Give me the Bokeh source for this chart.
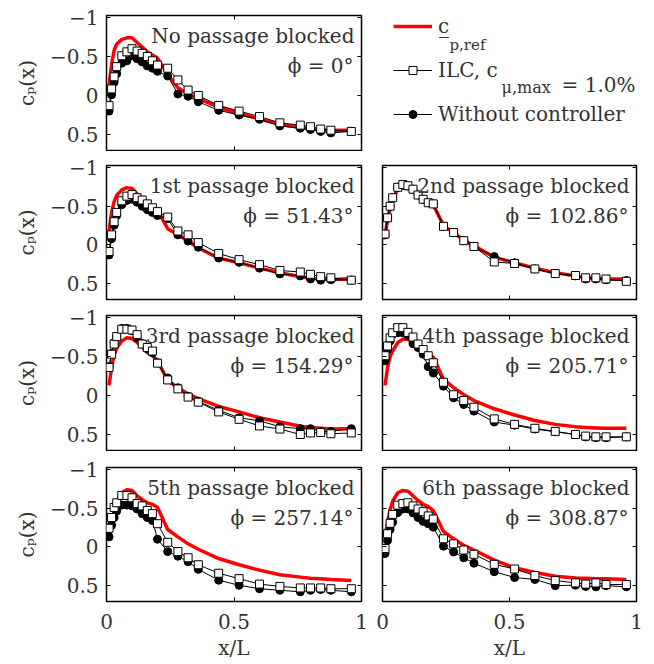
from bokeh.plotting import figure
from bokeh.models import (Range1d, FixedTicker, LinearAxis, Label, Legend, LegendItem,
                          CustomJSTickFormatter)
from bokeh.layouts import column, row
from bokeh.embed import file_html
from bokeh.resources import INLINE

# ---------------- data ----------------
x_taps = [0.01, 0.02, 0.03, 0.04, 0.06, 0.08, 0.10, 0.12, 0.14, 0.16, 0.18, 0.20,
          0.24, 0.28, 0.32, 0.36, 0.44, 0.52, 0.60, 0.68, 0.76, 0.80, 0.84, 0.88, 0.96]

# No passage blocked
ref_0 = [-0.13, -0.40, -0.58, -0.66, -0.72, -0.74, -0.74, -0.68, -0.62, -0.56, -0.52, -0.48,
         -0.27, -0.10, -0.02, 0.04, 0.15, 0.23, 0.30, 0.37, 0.41, 0.43, 0.44, 0.445, 0.445]
ilc_0 = [0.13, -0.085, -0.24, -0.37, -0.51, -0.56, -0.60, -0.57, -0.54, -0.50, -0.445, -0.39,
         -0.35, -0.20, -0.07, 0.0, 0.127, 0.20, 0.27, 0.35, 0.38, 0.40, 0.43, 0.445, 0.46]
wo_0 = [0.20, -0.01, -0.17, -0.28, -0.415, -0.445, -0.51, -0.47, -0.43, -0.38, -0.35, -0.31,
        -0.25, -0.02, 0.01, 0.08, 0.19, 0.25, 0.305, 0.39, 0.42, 0.435, 0.46, 0.48, 0.46]
# 1st passage blocked
ref_1 = [-0.17, -0.42, -0.56, -0.64, -0.71, -0.74, -0.73, -0.66, -0.60, -0.55, -0.49, -0.45,
         -0.21, -0.13, -0.05, 0.04, 0.17, 0.23, 0.30, 0.36, 0.41, 0.43, 0.44, 0.45, 0.435]
ilc_1 = [0.085, -0.13, -0.30, -0.42, -0.57, -0.63, -0.65, -0.61, -0.58, -0.53, -0.48, -0.43,
         -0.36, -0.18, -0.13, -0.03, 0.11, 0.19, 0.255, 0.33, 0.35, 0.38, 0.41, 0.425, 0.455]
wo_1 = [0.13, -0.08, -0.255, -0.38, -0.52, -0.575, -0.59, -0.55, -0.50, -0.455, -0.42, -0.38,
        -0.34, -0.13, -0.05, 0.03, 0.17, 0.225, 0.30, 0.375, 0.40, 0.44, 0.455, 0.45, 0.455]
# 2nd passage blocked
ref_2 = [-0.12, -0.33, -0.48, -0.58, -0.72, -0.77, -0.76, -0.72, -0.65, -0.59, -0.55, -0.52,
         -0.25, -0.16, -0.06, 0.01, 0.16, 0.23, 0.30, 0.36, 0.40, 0.42, 0.43, 0.44, 0.44]
ilc_2 = [-0.14, -0.35, -0.50, -0.61, -0.745, -0.78, -0.765, -0.72, -0.645, -0.59, -0.545, -0.53,
         -0.24, -0.16, -0.055, 0.02, 0.22, 0.24, 0.31, 0.37, 0.395, 0.425, 0.425, 0.44, 0.47]
wo_2 = [-0.13, -0.35, -0.50, -0.61, -0.745, -0.77, -0.76, -0.72, -0.645, -0.59, -0.545, -0.53,
        -0.24, -0.16, -0.055, 0.02, 0.15, 0.23, 0.31, 0.37, 0.40, 0.44, 0.44, 0.45, 0.46]
# 3rd passage blocked
ref_3 = [-0.13, -0.36, -0.52, -0.61, -0.70, -0.74, -0.73, -0.68, -0.62, -0.55, -0.51, -0.445,
         -0.19, -0.10, -0.02, 0.04, 0.14, 0.21, 0.285, 0.34, 0.395, 0.41, 0.42, 0.43, 0.425]
ilc_3 = [-0.36, -0.53, -0.66, -0.755, -0.85, -0.85, -0.84, -0.78, -0.66, -0.615, -0.57, -0.415,
         -0.20, -0.085, 0.02, 0.085, 0.21, 0.305, 0.39, 0.43, 0.50, 0.48, 0.475, 0.49, 0.48]
wo_3 = [-0.37, -0.54, -0.68, -0.755, -0.86, -0.86, -0.83, -0.74, -0.665, -0.60, -0.55, -0.42,
        -0.225, -0.10, 0.01, 0.075, 0.19, 0.285, 0.325, 0.40, 0.425, 0.425, 0.46, 0.46, 0.425]
# 4th passage blocked
ref_4 = [-0.13, -0.36, -0.50, -0.57, -0.68, -0.72, -0.72, -0.68, -0.62, -0.57, -0.53, -0.49,
         -0.21, -0.10, -0.01, 0.065, 0.17, 0.25, 0.32, 0.37, 0.40, 0.41, 0.415, 0.42, 0.42]
ilc_4 = [-0.51, -0.635, -0.74, -0.805, -0.87, -0.87, -0.81, -0.75, -0.66, -0.59, -0.51, -0.42,
         -0.17, -0.01, 0.065, 0.15, 0.30, 0.37, 0.42, 0.46, 0.50, 0.52, 0.53, 0.53, 0.53]
wo_4 = [-0.445, -0.59, -0.70, -0.785, -0.805, -0.805, -0.77, -0.665, -0.615, -0.53, -0.37, -0.29,
        -0.12, 0.03, 0.115, 0.20, 0.34, 0.38, 0.43, 0.465, 0.50, 0.53, 0.54, 0.54, 0.53]
# 5th passage blocked
ref_5 = [-0.17, -0.33, -0.44, -0.59, -0.70, -0.74, -0.73, -0.66, -0.61, -0.57, -0.55, -0.51,
         -0.225, -0.13, -0.04, 0.03, 0.15, 0.23, 0.30, 0.36, 0.39, 0.405, 0.41, 0.42, 0.435]
ilc_5 = [-0.24, -0.38, -0.51, -0.57, -0.665, -0.665, -0.635, -0.56, -0.53, -0.47, -0.43, -0.30,
         -0.06, 0.06, 0.14, 0.23, 0.34, 0.41, 0.48, 0.51, 0.53, 0.53, 0.53, 0.54, 0.54]
wo_5 = [-0.13, -0.28, -0.38, -0.465, -0.54, -0.54, -0.53, -0.49, -0.43, -0.38, -0.34, -0.10,
        0.06, 0.12, 0.19, 0.29, 0.43, 0.495, 0.54, 0.56, 0.58, 0.56, 0.55, 0.56, 0.58]
# 6th passage blocked
ref_6 = [-0.13, -0.32, -0.48, -0.59, -0.70, -0.73, -0.72, -0.66, -0.60, -0.55, -0.52, -0.47,
         -0.20, -0.105, -0.02, 0.04, 0.17, 0.27, 0.33, 0.38, 0.40, 0.405, 0.41, 0.41, 0.42]
ilc_6 = [0.02, -0.17, -0.305, -0.42, -0.54, -0.56, -0.57, -0.53, -0.49, -0.455, -0.40, -0.36,
         -0.105, -0.04, 0.04, 0.095, 0.225, 0.285, 0.37, 0.435, 0.465, 0.48, 0.465, 0.485, 0.485]
wo_6 = [0.085, -0.085, -0.225, -0.32, -0.445, -0.49, -0.49, -0.44, -0.38, -0.33, -0.30, -0.255,
        -0.01, 0.065, 0.14, 0.21, 0.32, 0.395, 0.42, 0.50, 0.495, 0.51, 0.515, 0.50, 0.515]

panel_titles = ["No passage blocked", "1st passage blocked", "2nd passage blocked",
                "3rd passage blocked", "4th passage blocked", "5th passage blocked",
                "6th passage blocked"]
panel_phis = ["ϕ = 0°", "ϕ = 51.43°", "ϕ = 102.86°", "ϕ = 154.29°", "ϕ = 205.71°",
              "ϕ = 257.14°", "ϕ = 308.87°"]

x_ticks = [0, 0.5, 1]
y_ticks = [-1, -0.5, 0, 0.5]

ref_series = [ref_0, ref_1, ref_2, ref_3, ref_4, ref_5, ref_6]
ilc_series = [ilc_0, ilc_1, ilc_2, ilc_3, ilc_4, ilc_5, ilc_6]
wo_series = [wo_0, wo_1, wo_2, wo_3, wo_4, wo_5, wo_6]

# ---------------- styling ----------------
FONT = "DejaVu Serif"
TXT = "#333333"
FS = "20px"
RED = "#ff0000"

ROW_TOP = [15, 14, 14, 16]
ROW_FRAME_H = [135, 134, 135, 134]
ROW_BOTTOM = [1, 2, 1, 63]
LEFT_BORDER = 106

y_fmt_code = "return tick < 0 ? '\u2212' + String(-tick) : String(tick);"


def style_axis(ax, ticks, show_labels, fmt_code):
    ax.ticker = FixedTicker(ticks=ticks, minor_ticks=[])
    ax.major_tick_in = 4
    ax.major_tick_out = 0
    ax.major_tick_line_color = "black"
    ax.major_tick_line_width = 1
    ax.minor_tick_line_color = None
    ax.axis_line_color = None
    ax.major_label_text_font = FONT
    ax.major_label_text_color = TXT
    ax.major_label_text_font_size = FS
    if show_labels:
        ax.formatter = CustomJSTickFormatter(code=fmt_code)
    else:
        ax.formatter = CustomJSTickFormatter(code="return '';")
        ax.major_label_standoff = 0


def make_panel(idx, col, r):
    left = col == 0
    bottom = r == 3
    fw = 255 if left else 254
    fh = ROW_FRAME_H[r]
    p = figure(frame_width=fw, frame_height=fh,
               min_border_left=LEFT_BORDER if left else 11, min_border_right=10,
               min_border_top=ROW_TOP[r], min_border_bottom=ROW_BOTTOM[r],
               x_range=Range1d(0, 1), y_range=Range1d(0.705, -1.026),
               toolbar_location=None, output_backend="svg")
    p.grid.visible = False
    p.outline_line_color = "black"
    p.outline_line_width = 1.5
    p.background_fill_color = "white"
    p.border_fill_color = "white"

    style_axis(p.xaxis[0], x_ticks, bottom, "return String(tick);")
    style_axis(p.yaxis[0], y_ticks, left, y_fmt_code)
    if bottom:
        p.xaxis[0].major_label_standoff = 12
        p.xaxis[0].axis_label = "x/L"
        p.xaxis[0].axis_label_standoff = 4
    if left:
        p.yaxis[0].major_label_standoff = 8
        p.yaxis[0].axis_label = "cₚ(x)"
        p.yaxis[0].axis_label_standoff = 8
    for ax in (p.xaxis[0], p.yaxis[0]):
        ax.axis_label_text_font = FONT
        ax.axis_label_text_font_size = FS
        ax.axis_label_text_font_style = "normal"
        ax.axis_label_text_color = TXT

    top_ax = LinearAxis()
    style_axis(top_ax, x_ticks, False, "")
    p.add_layout(top_ax, "above")
    right_ax = LinearAxis()
    style_axis(right_ax, y_ticks, False, "")
    p.add_layout(right_ax, "right")

    p.line(x_taps, ref_series[idx], line_color=RED, line_width=3.5)
    p.line(x_taps, wo_series[idx], line_color="black", line_width=1)
    p.scatter(x_taps, wo_series[idx], marker="circle", size=8, fill_color="black",
              line_color="black")
    p.line(x_taps, ilc_series[idx], line_color="black", line_width=1)
    p.scatter(x_taps, ilc_series[idx], marker="square", size=8, fill_color="white",
              line_color="black", line_width=1)

    p.add_layout(Label(x=fw - 7, y=fh - 20, x_units="screen", y_units="screen",
                       text=panel_titles[idx], text_align="right", text_baseline="alphabetic",
                       text_font=FONT, text_font_size=FS, text_color=TXT))
    p.add_layout(Label(x=fw - 8, y=fh - 50, x_units="screen", y_units="screen",
                       text=panel_phis[idx], text_align="right", text_baseline="alphabetic",
                       text_font=FONT, text_font_size=FS, text_color=TXT))
    return p


# ---------------- legend figure ----------------
leg = figure(frame_width=254, frame_height=135, min_border_left=11, min_border_right=10,
             min_border_top=15, min_border_bottom=1, x_range=Range1d(0, 1),
             y_range=Range1d(0.705, -1.026), x_axis_location=None, y_axis_location=None,
             toolbar_location=None, output_backend="svg")
leg.grid.visible = False
leg.outline_line_color = None
r_ref = leg.line(x_taps, ref_0, line_color=RED, line_width=3.5, visible=False)
r_ilc_l = leg.line(x_taps, ilc_0, line_color="black", line_width=1, visible=False)
r_ilc_m = leg.scatter(x_taps, ilc_0, marker="square", size=8, fill_color="white",
                      line_color="black", visible=False)
r_wo_l = leg.line(x_taps, wo_0, line_color="black", line_width=1, visible=False)
r_wo_m = leg.scatter(x_taps, wo_0, marker="circle", size=8, fill_color="black",
                     line_color="black", visible=False)
legend = Legend(items=[LegendItem(label="c\u0332", renderers=[r_ref]),
                       LegendItem(label="ILC, c", renderers=[r_ilc_l, r_ilc_m]),
                       LegendItem(label="Without controller", renderers=[r_wo_l, r_wo_m])],
                location=(11, 24), glyph_width=39, glyph_height=20, label_height=20,
                label_standoff=6, spacing=20, padding=0, margin=0,
                border_line_color=None, background_fill_alpha=0,
                label_text_font=FONT, label_text_font_size=FS, label_text_color=TXT)
leg.add_layout(legend)
leg.add_layout(Label(x=67, y=106, x_units="screen", y_units="screen", text="p,ref",
                     text_baseline="alphabetic", text_font=FONT, text_font_size="15px",
                     text_color=TXT))
leg.add_layout(Label(x=119, y=63, x_units="screen", y_units="screen", text="μ,max",
                     text_baseline="alphabetic", text_font=FONT, text_font_size="16px",
                     text_color=TXT))
leg.add_layout(Label(x=253, y=66, x_units="screen", y_units="screen", text="= 1.0%",
                     text_align="right", text_baseline="alphabetic", text_font=FONT,
                     text_font_size=FS, text_color=TXT))

panels = [make_panel(0, 0, 0),
          make_panel(1, 0, 1), make_panel(2, 1, 1),
          make_panel(3, 0, 2), make_panel(4, 1, 2),
          make_panel(5, 0, 3), make_panel(6, 1, 3)]

layout = column(row(panels[0], leg),
                row(panels[1], panels[2]),
                row(panels[3], panels[4]),
                row(panels[5], panels[6]))

open("out.html", "w").write(file_html(layout, INLINE))
